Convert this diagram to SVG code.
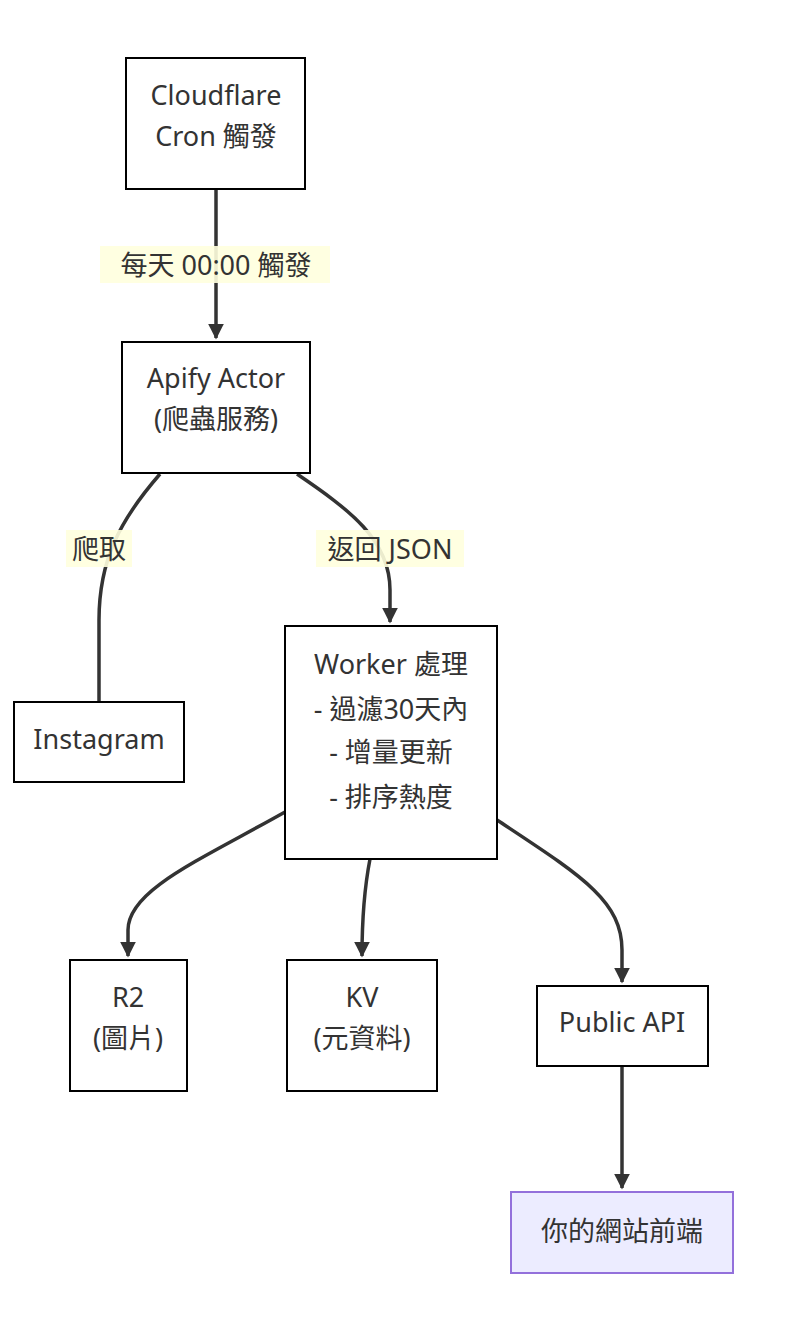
<svg xmlns="http://www.w3.org/2000/svg" width="790" height="1336" viewBox="0 0 790 1336">
<style>
.n rect{fill:#fff;stroke:#000;stroke-width:2}
text{font-family:"Noto Sans","Noto Sans CJK TC",sans-serif;font-size:27px;fill:#333;text-anchor:middle;dominant-baseline:central}
.e{fill:none;stroke:#333;stroke-width:3.5}
.lb{fill:#ffffde;opacity:0.9}
</style>
<defs><marker id="a" viewBox="0 0 10 10" refX="9" refY="5" markerWidth="4.5" markerHeight="4.5" orient="auto"><path d="M0 0L10 5L0 10z" fill="#333"/></marker></defs>
<rect width="790" height="1336" fill="#fff"/>
<g id="edges">
<path class="e" d="M216 189V338" marker-end="url(#a)"/>
<path class="e" d="M160 474C120 520 99 560 99 620V702"/>
<path class="e" d="M297 474C350 510 390 540 390 590V622" marker-end="url(#a)"/>
<path class="e" d="M285 812C200 860 128 890 128 930V956" marker-end="url(#a)"/>
<path class="e" d="M370 859C364 890 362 920 362 956" marker-end="url(#a)"/>
<path class="e" d="M497 820C580 875 622 900 622 950V982" marker-end="url(#a)"/>
<path class="e" d="M622 1066V1188" marker-end="url(#a)"/>
<rect class="lb" x="100" y="246" width="230" height="37"/><text x="216" y="264">每天 00:00 觸發</text>
<rect class="lb" x="66" y="530" width="66" height="37"/><text x="99" y="548">爬取</text>
<rect class="lb" x="316" y="530" width="148" height="37"/><text x="390" y="548">返回 JSON</text>
</g>
<g id="cron" class="n"><rect x="126" y="58" width="179" height="131"/><text x="216" y="94">Cloudflare</text><text x="216" y="135">Cron 觸發</text></g>
<g id="apify" class="n"><rect x="122" y="342" width="188" height="131"/><text x="216" y="377">Apify Actor</text><text x="216" y="418">(爬蟲服務)</text></g>
<g id="instagram" class="n"><rect x="14" y="702" width="170" height="80"/><text x="99" y="738">Instagram</text></g>
<g id="worker" class="n"><rect x="285" y="626" width="212" height="233"/><text x="391" y="663">Worker 處理</text><text x="391" y="708">- 過濾30天內</text><text x="391" y="751">- 增量更新</text><text x="391" y="796">- 排序熱度</text></g>
<g id="r2" class="n"><rect x="70" y="960" width="117" height="131"/><text x="128" y="996">R2</text><text x="128" y="1037">(圖片)</text></g>
<g id="kv" class="n"><rect x="287" y="960" width="150" height="131"/><text x="362" y="996">KV</text><text x="362" y="1037">(元資料)</text></g>
<g id="api" class="n"><rect x="537" y="986" width="171" height="80"/><text x="622" y="1021">Public API</text></g>
<g id="front"><rect x="511" y="1192" width="222" height="81" fill="#ececff" stroke="#9370db" stroke-width="2"/><text x="622" y="1230">你的網站前端</text></g>
</svg>
